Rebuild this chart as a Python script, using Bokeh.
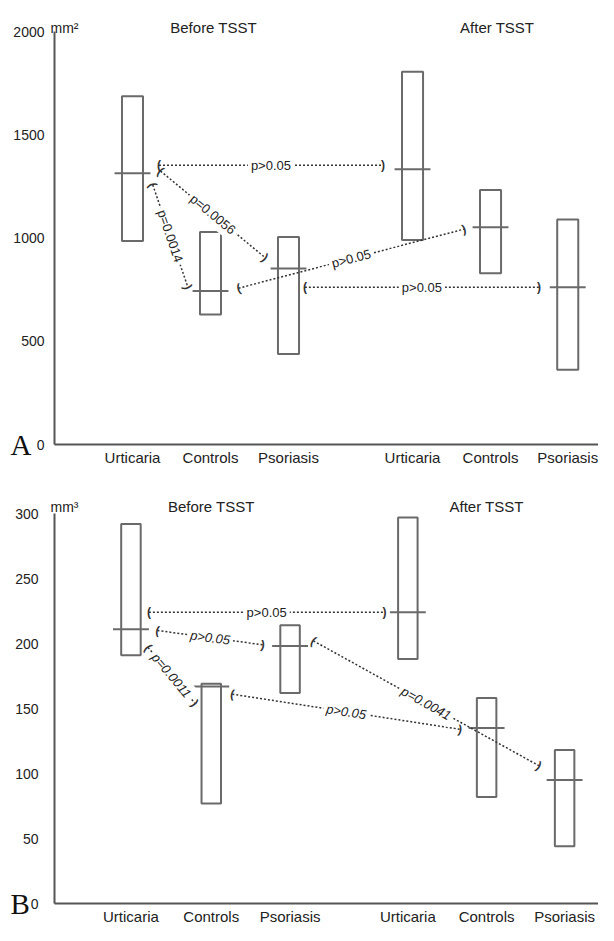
import math
from bokeh.plotting import figure
from bokeh.layouts import column
from bokeh.models import FixedTicker, Label, ColumnDataSource, Range1d, LinearAxis
from bokeh.core.properties import value
from bokeh.embed import file_html
from bokeh.resources import INLINE

# ---------------- data ----------------
groups = ["Urticaria", "Controls", "Psoriasis", "Urticaria", "Controls", "Psoriasis"]
phases = ["Before TSST", "After TSST"]

xpos_a = [1.0, 2.0, 3.0, 4.59, 5.59, 6.58]
a_low = [986, 629, 438, 990, 829, 362]
a_med = [1314, 743, 852, 1333, 1052, 762]
a_high = [1686, 1029, 1005, 1805, 1233, 1090]
a_ticks = [0, 500, 1000, 1500, 2000]

xpos_b = [0.98, 2.01, 3.02, 4.53, 5.54, 6.54]
b_low = [191, 77, 162, 188, 82, 44]
b_med = [211, 167, 198, 224, 135, 95]
b_high = [292, 169, 214, 297, 158, 118]
b_ticks = [0, 50, 100, 150, 200, 250, 300]

# comparisons (start x, start y, end x, end y, label)
a_cmp_x0 = [1.34, 1.36, 1.26, 2.36, 3.21]
a_cmp_y0 = [1352, 1324, 1257, 757, 762]
a_cmp_x1 = [4.21, 2.70, 1.71, 5.25, 6.21]
a_cmp_y1 = [1352, 905, 762, 1043, 762]
a_cmp_lab = ["p>0.05", "p=0.0056", "p=0.0014", "p>0.05", "p>0.05"]
a_cmp_style = ["normal", "normal", "normal", "normal", "normal"]

b_cmp_x0 = [1.21, 1.32, 1.20, 2.28, 3.32]
b_cmp_y0 = [224, 210, 197, 161, 202]
b_cmp_x1 = [4.23, 2.67, 1.80, 5.20, 6.21]
b_cmp_y1 = [224, 199, 154, 134, 106]
b_cmp_lab = ["p>0.05", "p>0.05", "p=0.0011", "p>0.05", "p=0.0041"]
b_cmp_style = ["normal", "italic", "italic", "italic", "italic"]

# ---------------- style ----------------
FONT = "Liberation Sans"
TXT = "#222222"
BOXC = "#6a6a6a"
AXC = "#555555"
DOT = "#333333"
FIG_W = 598
LEFT_PX = 54          # distance of the y axis from the figure's left edge
SX = 78.0             # px per category unit
XMIN = -LEFT_PX / SX
XMAX = (FIG_W - LEFT_PX) / SX


def make_panel(xpos, low, med, high, ticks, ymax, fig_h, top_off, bot_off,
               unit, letter, standoff, cx0, cy0, cx1, cy1, clab, cstyle,
               title_x, unit_dy, box_w):
    sy = (fig_h - top_off - bot_off) / ymax
    p = figure(frame_width=FIG_W, frame_height=fig_h,
               x_range=Range1d(XMIN, XMAX),
               y_range=Range1d(-bot_off / sy, ymax + top_off / sy),
               x_axis_location=None, y_axis_location=None,
               output_backend="svg", toolbar_location=None,
               min_border=0)
    p.outline_line_color = None
    p.grid.visible = False
    p.background_fill_color = "white"

    ya = LinearAxis(fixed_location=0, bounds=(0, ymax),
                    ticker=FixedTicker(ticks=ticks),
                    major_tick_line_color=None, minor_tick_line_color=None,
                    major_tick_out=0, major_tick_in=0,
                    axis_line_color=AXC, axis_line_width=2,
                    major_label_standoff=standoff,
                    major_label_text_font=FONT,
                    major_label_text_font_size="14px",
                    major_label_text_color=TXT)
    p.add_layout(ya, "left")

    xa = LinearAxis(fixed_location=0, bounds=(0, XMAX),
                    ticker=FixedTicker(ticks=xpos),
                    major_label_overrides={x: g for x, g in zip(xpos, groups)},
                    major_tick_line_color=None, minor_tick_line_color=None,
                    major_tick_out=0, major_tick_in=0,
                    axis_line_color=AXC, axis_line_width=2,
                    major_label_standoff=4,
                    major_label_text_font=FONT,
                    major_label_text_font_size="15px",
                    major_label_text_color=TXT)
    p.add_layout(xa, "below")

    # boxes
    src = ColumnDataSource(dict(x=xpos, low=low, high=high, med=med,
                                ml=[x - 0.23 for x in xpos],
                                mr=[x + 0.23 for x in xpos]))
    p.quad(left=[x - box_w / 2 for x in xpos], right=[x + box_w / 2 for x in xpos],
           bottom=low, top=high, fill_color=None, line_color=BOXC, line_width=2)
    p.segment(x0="ml", y0="med", x1="mr", y1="med", source=src,
              line_color=BOXC, line_width=2)

    # comparisons
    ang = [math.atan2((b1 - b0) * sy, (a1 - a0) * SX)
           for a0, b0, a1, b1 in zip(cx0, cy0, cx1, cy1)]
    csrc = ColumnDataSource(dict(
        x0=cx0, y0=cy0, x1=cx1, y1=cy1, lab=clab, style=cstyle, ang=ang,
        mx=[(a + b) / 2 for a, b in zip(cx0, cx1)],
        my=[(a + b) / 2 for a, b in zip(cy0, cy1)]))
    p.segment(x0="x0", y0="y0", x1="x1", y1="y1", source=csrc,
              line_color=DOT, line_width=1.5, line_dash="2 2")
    p.text(x="x0", y="y0", text=value("("), angle="ang", source=csrc,
           text_font=value(FONT), text_font_size="12px", text_color=DOT,
           text_font_style="bold",
           text_align="center", text_baseline="middle")
    p.text(x="x1", y="y1", text=value(")"), angle="ang", source=csrc,
           text_font=value(FONT), text_font_size="12px", text_color=DOT,
           text_font_style="bold",
           text_align="center", text_baseline="middle")
    p.text(x="mx", y="my", text="lab", angle="ang", source=csrc,
           text_font=value(FONT), text_font_size="13px", text_color=TXT,
           text_font_style="style",
           text_align="center", text_baseline="middle",
           background_fill_color="white", padding=3)

    # titles / unit / panel letter
    top_y = ymax + unit_dy / sy
    p.add_layout(Label(x=-4 / SX, y=top_y, text=unit, text_font=FONT,
                       text_font_size="14px", text_color=TXT,
                       text_align="left", text_baseline="alphabetic"))
    for t, tx in zip(phases, title_x):
        p.add_layout(Label(x=tx, y=top_y, text=t, text_font=FONT,
                           text_font_size="15px", text_color=TXT,
                           text_align="center", text_baseline="alphabetic"))
    p.add_layout(Label(x=-44 / SX, y=0, text=letter, text_font="Liberation Serif",
                       text_font_size="29px", text_color="#111111",
                       text_align="left", text_baseline="alphabetic"))
    return p


pa = make_panel(xpos_a, a_low, a_med, a_high, a_ticks, 2000, 467, 31, 23,
                "mm\u00b2", "A", 10, a_cmp_x0, a_cmp_y0, a_cmp_x1, a_cmp_y1,
                a_cmp_lab, a_cmp_style, [2.04, 5.675], 4, 0.27)
pb = make_panel(xpos_b, b_low, b_med, b_high, b_ticks, 300, 458, 46, 22,
                "mm\u00b3", "B", 16, b_cmp_x0, b_cmp_y0, b_cmp_x1, b_cmp_y1,
                b_cmp_lab, b_cmp_style, [2.01, 5.54], 7, 0.25)

layout = column(pa, pb, spacing=0)
open("out.html", "w").write(file_html(layout, INLINE))
